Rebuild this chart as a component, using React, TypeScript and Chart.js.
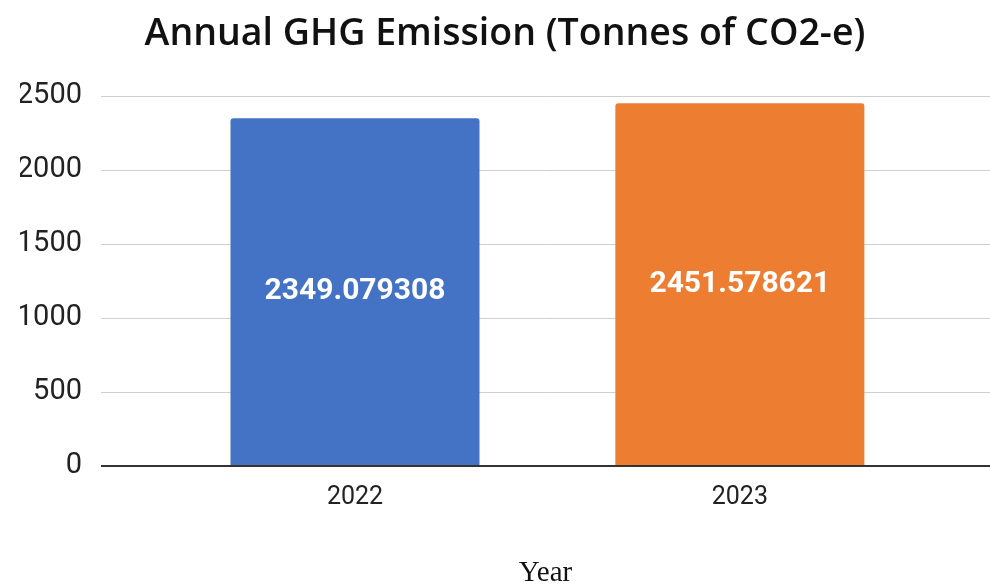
import React, { useEffect, useRef } from "react";
import { Chart, registerables } from "chart.js";

Chart.register(...registerables);

const titleText = "Annual GHG Emission (Tonnes of CO2-e)";
const categories = ["2022", "2023"];
const emissions = [2349.079308, 2451.578621];
const barColors = ["#4472C4", "#ED7D31"];
const yTicks = [0, 500, 1000, 1500, 2000, 2500];
const xAxisTitle = "Year";

const valueLabels = {
  id: "valueLabels",
  afterDatasetsDraw(chart: any) {
    const ctx = chart.ctx;
    const meta = chart.getDatasetMeta(0);
    ctx.save();
    ctx.font = "bold 30px Roboto";
    ctx.fillStyle = "#ffffff";
    ctx.textAlign = "center";
    ctx.textBaseline = "middle";
    meta.data.forEach((bar: any, i: number) => {
      const v = chart.data.datasets[0].data[i];
      const y = (bar.y + bar.base) / 2;
      ctx.fillText(String(v.y), bar.x, y);
    });
    ctx.restore();
  },
};

export default function App() {
  const ref = useRef<HTMLCanvasElement | null>(null);
  useEffect(() => {
    if (!ref.current) return;
    const chart = new Chart(ref.current, {
      type: "bar",
      data: {
        datasets: [
          {
            data: emissions.map((v, i) => ({ x: i, y: v })),
            backgroundColor: barColors,
            borderRadius: { topLeft: 3, topRight: 3, bottomLeft: 0, bottomRight: 0 },
            borderSkipped: false,
            categoryPercentage: 1,
            barPercentage: 0.647,
          },
        ],
      },
      options: {
        responsive: false,
        animation: false,
        layout: { padding: { left: 20, right: 0, top: 0, bottom: 0 } },
        plugins: {
          legend: { display: false },
          tooltip: { enabled: false },
          title: {
            display: true,
            text: titleText,
            color: "#111111",
            font: { family: "'Open Sans'", size: 37.5, weight: 600 },
            padding: { top: 12, bottom: 39 },
          },
        },
        scales: {
          x: {
            type: "linear",
            offset: false,
            min: -0.66,
            max: 1.65,
            grid: { display: false, drawTicks: false },
            border: { display: false },
            afterBuildTicks: (scale: any) => {
              scale.ticks = categories.map((_, i) => ({ value: i }));
            },
            afterFit: (scale: any) => {
              scale.height = 122;
            },
            ticks: {
              autoSkip: false,
              maxRotation: 0,
              padding: 17,
              color: "#222222",
              font: { family: "Roboto", size: 25 },
              callback: (v: any) => categories[v] ?? "",
            },
            title: {
              display: true,
              text: xAxisTitle,
              color: "#111111",
              font: { family: "'Liberation Serif'", size: 29 },
              padding: { top: 0, bottom: -3 },
            },
          },
          y: {
            min: 0,
            max: 2500,
            afterBuildTicks: (scale: any) => {
              scale.ticks = yTicks.map((v) => ({ value: v }));
            },
            afterFit: (scale: any) => {
              scale.width = 81;
            },
            grid: {
              drawTicks: false,
              color: (c: any) => (c.tick && c.tick.value === 0 ? "#333333" : "#cfcfcf"),
              lineWidth: (c: any) => (c.tick && c.tick.value === 0 ? 2 : 1),
            },
            border: { display: false },
            ticks: {
              padding: 19,
              color: "#222222",
              font: { family: "Roboto", size: 29 },
              callback: (v: any) => String(v),
            },
          },
        },
      },
      plugins: [valueLabels],
    } as any);
    return () => chart.destroy();
  }, []);
  return (
    <div style={{ position: "absolute", left: 0, top: 0, width: 990, height: 588, background: "#ffffff" }}>
      <canvas ref={ref} width={990} height={588} style={{ display: "block" }} />
    </div>
  );
}
